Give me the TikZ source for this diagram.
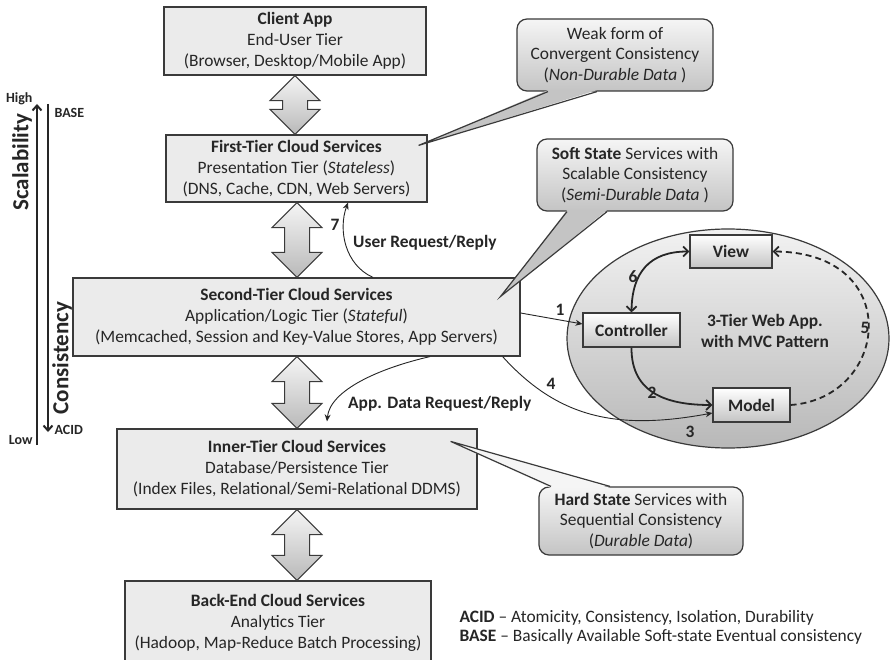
\documentclass[tikz,border=0pt]{standalone}
\usepackage{fontspec}
\setmainfont{Carlito}
\usetikzlibrary{arrows.meta,calc,shapes.geometric}

\definecolor{ink}{HTML}{262626}
\definecolor{edgegray}{HTML}{3A3A3A}
\definecolor{tierfill}{HTML}{EBEBEB}
\definecolor{shadetop}{HTML}{F5F5F5}
\definecolor{shadebot}{HTML}{C4C4C4}
\definecolor{ovaltop}{HTML}{F2F2F2}
\definecolor{ovalbot}{HTML}{B8B8B8}

\newcommand{\tierfont}{\fontsize{17.4}{21}\selectfont}
\newcommand{\notefont}{\fontsize{17.4}{20.5}\selectfont}
\newcommand{\axisfont}{\fontsize{23}{26}\selectfont\bfseries}
\newcommand{\axisendfont}{\fontsize{14}{16}\selectfont\bfseries}

% wide two-headed arrow joining two stacked tiers, centred on x = #1
\newcommand{\tierlink}[3]{%
  \path[linkarrow] let \p1=(#2.south), \p2=(#3.north) in
    (#1pt,\y1) -- ({#1pt+25pt},{\y1-25pt}) -- ({#1pt+12.5pt},{\y1-25pt})
    -- ({#1pt+12.5pt},{\y2+25pt}) -- ({#1pt+25pt},{\y2+25pt}) -- (#1pt,\y2)
    -- ({#1pt-25pt},{\y2+25pt}) -- ({#1pt-12.5pt},{\y2+25pt})
    -- ({#1pt-12.5pt},{\y1-25pt}) -- ({#1pt-25pt},{\y1-25pt}) -- cycle;}

\begin{document}
\begin{tikzpicture}[x=1pt,y=-1pt,
  tier/.style={draw=edgegray, line width=1.2pt, fill=tierfill, align=center,
    text=ink, font=\tierfont, inner sep=0pt},
  note/.style={draw=edgegray, line width=1.2pt, rounded corners=10pt,
    top color=shadetop, bottom color=shadebot, align=center, text=ink,
    font=\notefont, inner sep=0pt, minimum width=196, minimum height=72},
  mvcbox/.style={draw=edgegray, line width=1.1pt, top color=white,
    bottom color=shadebot, text=ink, font=\tierfont\bfseries, inner sep=0pt,
    minimum height=34},
  linkarrow/.style={draw=edgegray, line width=1pt, top color=shadetop,
    bottom color=gray!55},
  thin/.style={draw=ink, line width=0.9pt, -{Stealth[length=7pt,width=6pt]}},
  thick/.style={draw=ink, line width=1.8pt},
  barb/.tip={Straight Barb[length=5pt,width=10pt]},
  lbl/.style={text=ink, font=\tierfont\bfseries, inner sep=0pt},
  pointer/.style={draw=edgegray, line width=1.2pt}
]
\useasboundingbox (0,0) rectangle (891,660);
\fill[white] (0,0) rectangle (891,660);

% ---------------- tiers ----------------
\node[tier, minimum width=262, minimum height=68] (client) at (295,41)
  {\textbf{Client App}\\End-User Tier\\(Browser, Desktop/Mobile App)};
\node[tier, minimum width=261, minimum height=67] (first) at (296.5,168.5)
  {\textbf{First-Tier Cloud Services}\\Presentation Tier (\textit{Stateless})\\(DNS, Cache, CDN, Web Servers)};
\node[tier, minimum width=447, minimum height=78] (second) at (296.5,317)
  {\textbf{Second-Tier Cloud Services}\\Application/Logic Tier (\textit{Stateful})\\(Memcached, Session and Key-Value Stores, App Servers)};
\node[tier, minimum width=360, minimum height=80] (inner) at (297,469)
  {\textbf{Inner-Tier Cloud Services}\\Database/Persistence Tier\\(Index Files, Relational/Semi-Relational DDMS)};
\node[tier, minimum width=306, minimum height=84] (back) at (278,623)
  {\textbf{Back-End Cloud Services}\\Analytics Tier\\(Hadoop, Map-Reduce Batch Processing)};

\tierlink{295}{client}{first}
\tierlink{297}{first}{second}
\tierlink{297}{second}{inner}
\tierlink{297}{inner}{back}

% ---------------- callouts ----------------
\node[note] (weak) at (615,55)
  {Weak form of\\Convergent Consistency\\(\textit{Non-Durable Data} )};
\coordinate (weaktip) at ([xshift=-9pt,yshift=-11pt]first.north east);
\fill[shadebot] ([xshift=-67pt,yshift=1.5pt]weak.south) -- (weaktip) -- ([xshift=-18pt,yshift=1.5pt]weak.south) -- cycle;
\draw[pointer] ([xshift=-67pt]weak.south) -- (weaktip) -- ([xshift=-18pt]weak.south);

\node[note] (soft) at (635,175)
  {\textbf{Soft State} Services with\\Scalable Consistency\\(\textit{Semi-Durable Data} )};
\coordinate (softtip) at ([xshift=-20pt,yshift=-19pt]second.north east);
\fill[shadebot] ([xshift=-68pt,yshift=1.5pt]soft.south) -- (softtip) -- ([xshift=-28pt,yshift=1.5pt]soft.south) -- cycle;
\draw[pointer] ([xshift=-68pt]soft.south) -- (softtip) -- ([xshift=-28pt]soft.south);

\node[note, minimum width=204, minimum height=68] (hard) at (641,521)
  {\textbf{Hard State} Services with\\Sequential Consistency\\(\textit{Durable Data})};
\coordinate (hardtip) at ([xshift=-27pt,yshift=-13pt]inner.north east);
\fill[shadetop] ([xshift=-90pt,yshift=-1.5pt]hard.north) -- (hardtip) -- ([xshift=-31pt,yshift=-1.5pt]hard.north) -- cycle;
\draw[pointer] ([xshift=-90pt]hard.north) -- (hardtip) -- ([xshift=-31pt]hard.north);

% ---------------- MVC web application ----------------
\node[ellipse, draw=edgegray, line width=1.2pt, top color=ovaltop,
  bottom color=ovalbot, minimum width=322, minimum height=219] (mvc) at (728,338.5) {};
\node[lbl, align=center, font=\fontsize{17.4}{21}\selectfont\bfseries] (mvclabel) at (765,330.5)
  {3-Tier Web App.\\with MVC Pattern};
\node[mvcbox, minimum width=97] (ctrl) at (631.5,330) {Controller};
\node[mvcbox, minimum width=82, minimum height=33] (view) at (731,251.5) {View};
\node[mvcbox, minimum width=77] (model) at (751.5,405) {Model};

\draw[thick, barb-barb] (ctrl.north) .. controls (632,272) and (650,251.5) .. (view.west);
\draw[thick, -barb] (ctrl.south) .. controls (631,395) and (670,405) .. (model.west);
\draw[thick, dashed, dash pattern=on 6pt off 4pt, -barb] (model.east)
  .. controls (890,398) and (905,252) .. (view.east);

\draw[thin] ([yshift=4pt]second.east) -- ([yshift=6pt]ctrl.west);
\draw[thin] ([xshift=-18pt]second.south east) .. controls (560,420) and (620,430) .. ([yshift=-8pt]model.west);

\node[lbl] (n1) at (560,310) {1};
\node[lbl] (n2) at (652,393) {2};
\node[lbl] (n3) at (690,432) {3};
\node[lbl] (n4) at (551,384) {4};
\node[lbl] (n5) at (865,328) {5};
\node[lbl] (n6) at (633,277) {6};
\node[lbl] (n7) at (335,225) {7};

% ---------------- request / reply flows ----------------
\draw[thin] ([xshift=76.5pt]second.north) .. controls (345,265) and (338,230) .. ([xshift=51.5pt]first.south);
\node[lbl, anchor=west] (userreq) at (353,243) {User Request/Reply};
\draw[thin] ([xshift=133.5pt]second.south) .. controls (380,368) and (330,390) .. ([xshift=30pt,yshift=7pt]inner.north);
\node[lbl, anchor=west] (datareq) at (348,404) {App. Data Request/Reply};

% ---------------- scalability / consistency axis ----------------
\coordinate (scalbot) at (37,445);
\coordinate (scaltop) at (37,104);
\coordinate (constop) at (48,104);
\coordinate (consbot) at (48,432);
\draw[draw=ink, line width=2pt, -{Straight Barb[length=5pt,width=9pt]}] (scalbot) -- (scaltop);
\draw[draw=ink, line width=2pt, -{Straight Barb[length=5pt,width=9pt]}] (constop) -- (consbot);
\node[text=ink, font=\axisendfont, anchor=east] (high) at (36,99) {High};
\node[text=ink, font=\axisendfont, anchor=east] (low) at (36,440) {Low};
\node[text=ink, font=\axisendfont, anchor=west] (basel) at (51,113) {BASE};
\node[text=ink, font=\axisendfont, anchor=west] (acidl) at (51,430) {ACID};
\node[text=ink, font=\axisfont, rotate=90] (scal) at (22,162) {Scalability};
\node[text=ink, font=\axisfont, rotate=90] (cons) at (62,358) {Consistency};

% ---------------- legend ----------------
\node[text=ink, font=\tierfont, anchor=west] (legacid) at (456,618)
  {\textbf{ACID} -- Atomicity, Consistency, Isolation, Durability};
\node[text=ink, font=\tierfont, anchor=west] (legbase) at (456,637)
  {\textbf{BASE} -- Basically Available Soft-state Eventual consistency};
\end{tikzpicture}
\end{document}
